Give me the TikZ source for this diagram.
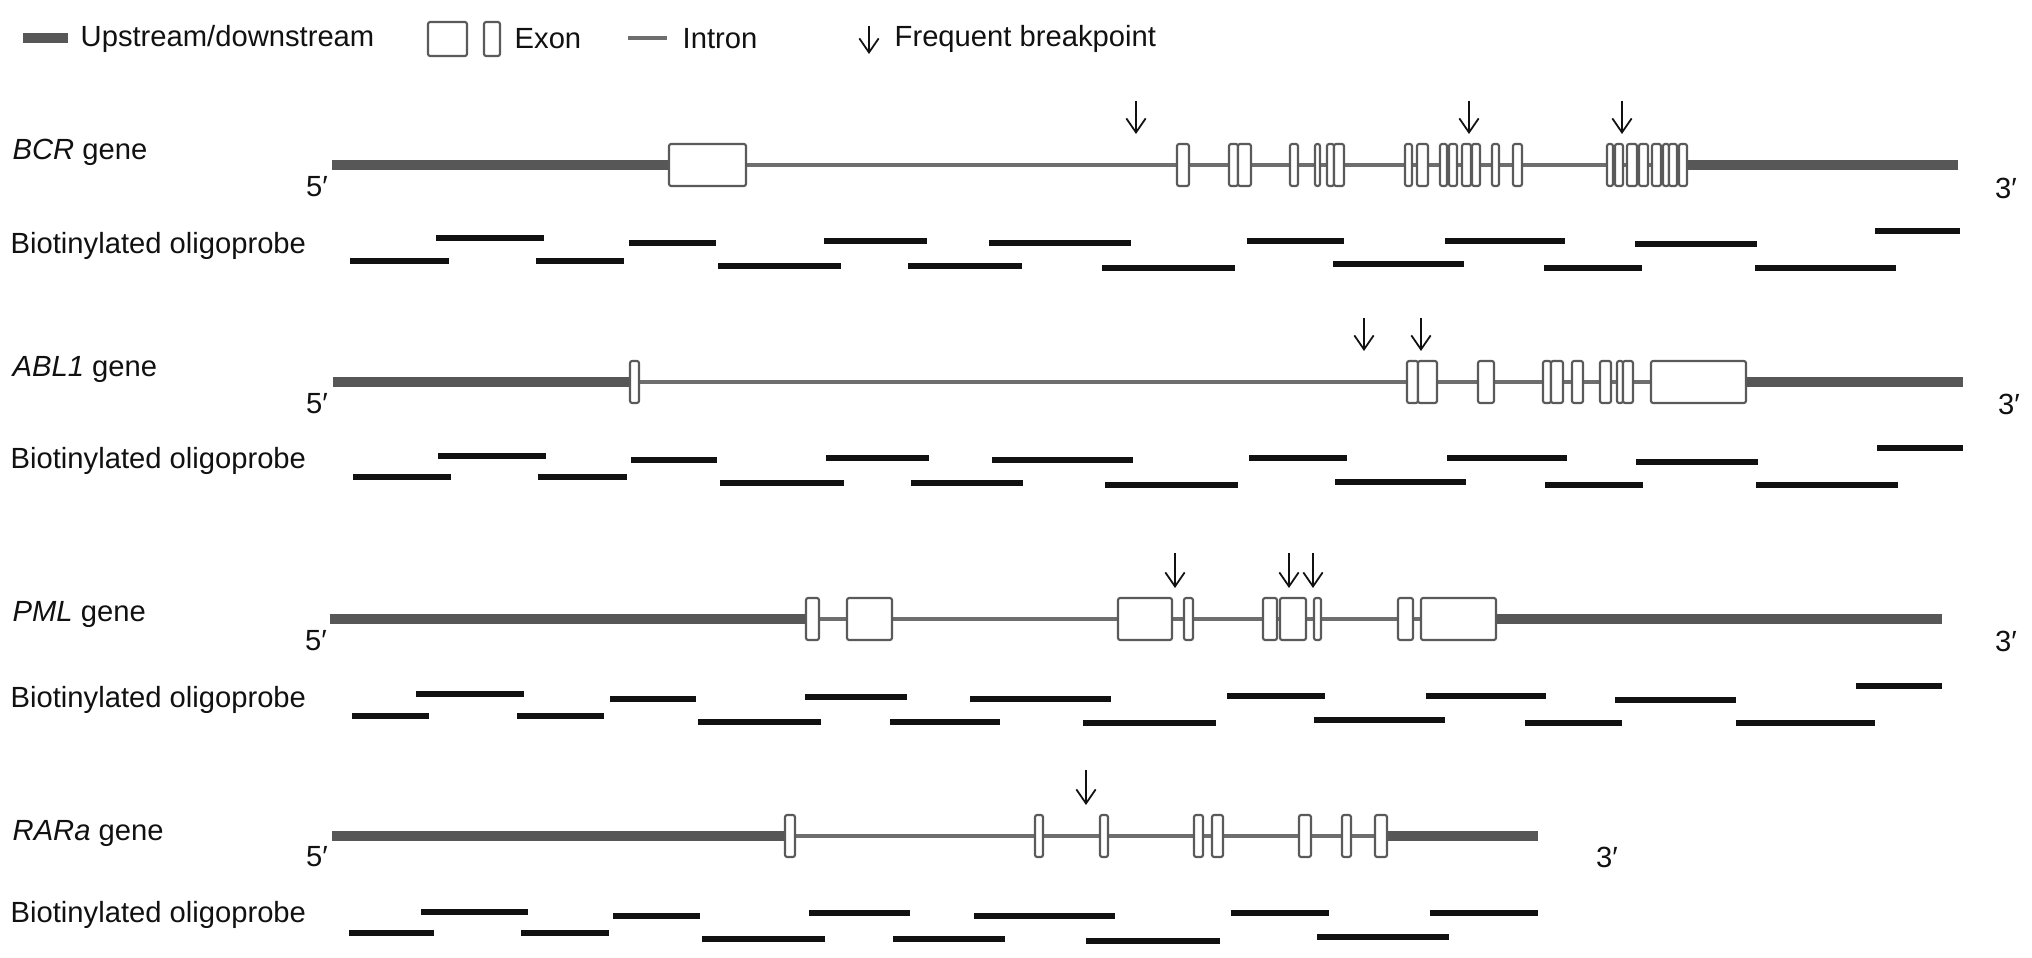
\documentclass[tikz,border=0pt]{standalone}
\usepackage{fontspec}
\setmainfont{Liberation Sans}
\usetikzlibrary{arrows.meta}
\definecolor{ink}{HTML}{111111}
\definecolor{flankg}{HTML}{575757}
\definecolor{introng}{HTML}{6E6E6E}
\definecolor{exong}{HTML}{5A5A5A}

\begin{document}
\begin{tikzpicture}[x=0.01cm, y=-0.01cm,
    every node/.style={text=ink, font=\fontsize{8.3}{10}\selectfont, inner sep=0pt},
    flank/.style={draw=flankg, line width=2.6pt},
    intron/.style={draw=introng, line width=0.9pt},
    exon/.style={draw=exong, fill=white, line width=0.6pt, rounded corners=0.6pt},
    probe/.style={draw=ink, line width=1.7pt},
    brk/.style={-{Straight Barb[length=4pt, width=5.5pt]}, line width=0.5pt, ink}
]

% ---------------- canvas, white ----------------
\fill[white] (0,0) rectangle (2032,958);
\useasboundingbox (0,0) rectangle (2032,958);

% ---------------- legend ----------------
\draw[flank] (23,38) -- (68,38);
\node[anchor=west] (lgdup) at (80,39) {Upstream/downstream};
\draw[exon] (428,22) rectangle (467,56);
\draw[exon] (484,22) rectangle (500,56);
\node[anchor=west] (lgdexon) at (514,39) {Exon};
\draw[intron] (628,38) -- (667,38);
\node[anchor=west] (lgdintron) at (682,39) {Intron};
\draw[brk] (869,26) -- (869,54);
\node[anchor=west] (lgdbrk) at (894,39) {Frequent breakpoint};

% ================= BCR =================
\begin{scope}[shift={(0,165)}]
    \draw[flank] (332,0) -- (669,0);
    \draw[intron] (669,0) -- (1687,0);
    \draw[flank] (1687,0) -- (1958,0);
    \foreach \a/\b in {669/746, 1177/1189, 1229/1238, 1238/1251, 1290/1298, 1315/1320,
        1327/1334, 1334/1344, 1405/1412, 1417/1428, 1440/1447, 1449/1457, 1462/1471,
        1472/1480, 1492/1499, 1513/1522, 1607/1613, 1615/1623, 1627/1637, 1639/1648,
        1652/1661, 1663/1669, 1669/1677, 1679/1687}
        \draw[exon] (\a,-21) rectangle (\b,21);
    \foreach \x in {1136,1469,1622}
        \draw[brk] (\x,-64) -- (\x,-31);
    % probes: start/end/offset below the gene
    \foreach \a/\b/\d in {436/544/73, 629/716/78, 824/927/76, 989/1131/78, 1247/1344/76,
        1445/1565/76, 1635/1757/79, 1875/1960/66, 350/449/96, 536/624/96, 718/841/101,
        908/1022/101, 1102/1235/103, 1333/1464/99, 1544/1642/103, 1755/1896/103}
        \draw[probe] (\a,\d) -- (\b,\d);
    \node[anchor=west] (bcrname) at (12,-13) {\textit{BCR} gene};
    \node[anchor=west] (bcrprobe) at (10,81) {Biotinylated oligoprobe};
    \node (bcrfive) at (317,22) {5′};
    \node (bcrthree) at (2006,23) {3′};
\end{scope}

% ================= ABL1 =================
\begin{scope}[shift={(0,382)}]
    \draw[flank] (333,0) -- (630,0);
    \draw[intron] (630,0) -- (1746,0);
    \draw[flank] (1746,0) -- (1963,0);
    \foreach \a/\b in {630/639, 1407/1418, 1418/1437, 1478/1494, 1543/1551, 1551/1563,
        1572/1583, 1600/1611, 1617/1623, 1623/1633, 1651/1746}
        \draw[exon] (\a,-21) rectangle (\b,21);
    \foreach \x in {1364,1421}
        \draw[brk] (\x,-64) -- (\x,-31);
    \foreach \a/\b/\d in {438/546/74, 631/717/78, 826/929/76, 992/1133/78, 1249/1347/76,
        1447/1567/76, 1636/1758/80, 1877/1963/66, 353/451/95, 538/627/95, 720/844/101,
        911/1023/101, 1105/1238/103, 1335/1466/100, 1545/1643/103, 1756/1898/103}
        \draw[probe] (\a,\d) -- (\b,\d);
    \node[anchor=west] (ablname) at (12,-13) {\textit{ABL1} gene};
    \node[anchor=west] (ablprobe) at (10,79) {Biotinylated oligoprobe};
    \node (ablfive) at (317,22) {5′};
    \node (ablthree) at (2009,22) {3′};
\end{scope}

% ================= PML =================
\begin{scope}[shift={(0,619)}]
    \draw[flank] (330,0) -- (806,0);
    \draw[intron] (806,0) -- (1496,0);
    \draw[flank] (1496,0) -- (1942,0);
    \foreach \a/\b in {806/819, 847/892, 1118/1172, 1184/1193, 1263/1277, 1280/1306,
        1314/1321, 1398/1413, 1421/1496}
        \draw[exon] (\a,-21) rectangle (\b,21);
    \foreach \x in {1175,1289,1313}
        \draw[brk] (\x,-66) -- (\x,-31);
    \foreach \a/\b/\d in {416/524/75, 610/696/80, 805/907/78, 970/1111/80, 1227/1325/77,
        1426/1546/77, 1615/1736/81, 1856/1942/67, 352/429/97, 517/604/97, 698/821/103,
        890/1000/103, 1083/1216/104, 1314/1445/101, 1525/1622/104, 1736/1875/104}
        \draw[probe] (\a,\d) -- (\b,\d);
    \node[anchor=west] (pmlname) at (12,-5) {\textit{PML} gene};
    \node[anchor=west] (pmlprobe) at (10,81) {Biotinylated oligoprobe};
    \node (pmlfive) at (316,22) {5′};
    \node (pmlthree) at (2006,22) {3′};
\end{scope}

% ================= RARa =================
\begin{scope}[shift={(0,836)}]
    \draw[flank] (332,0) -- (785,0);
    \draw[intron] (785,0) -- (1387,0);
    \draw[flank] (1387,0) -- (1538,0);
    \foreach \a/\b in {785/795, 1035/1043, 1100/1108, 1194/1203, 1212/1223, 1299/1311,
        1342/1351, 1375/1387}
        \draw[exon] (\a,-21) rectangle (\b,21);
    \draw[brk] (1086,-66) -- (1086,-31);
    \foreach \a/\b/\d in {421/528/76, 613/700/80, 809/910/77, 974/1115/80, 1231/1329/77,
        1430/1538/77, 349/434/97, 521/609/97, 702/825/103, 893/1005/103, 1086/1220/105,
        1317/1449/101}
        \draw[probe] (\a,\d) -- (\b,\d);
    \node[anchor=west] (rarname) at (12,-3) {\textit{RARa} gene};
    \node[anchor=west] (rarprobe) at (10,79) {Biotinylated oligoprobe};
    \node (rarfive) at (317,21) {5′};
    \node (rarthree) at (1607,21) {3′};
\end{scope}

\end{tikzpicture}
\end{document}
